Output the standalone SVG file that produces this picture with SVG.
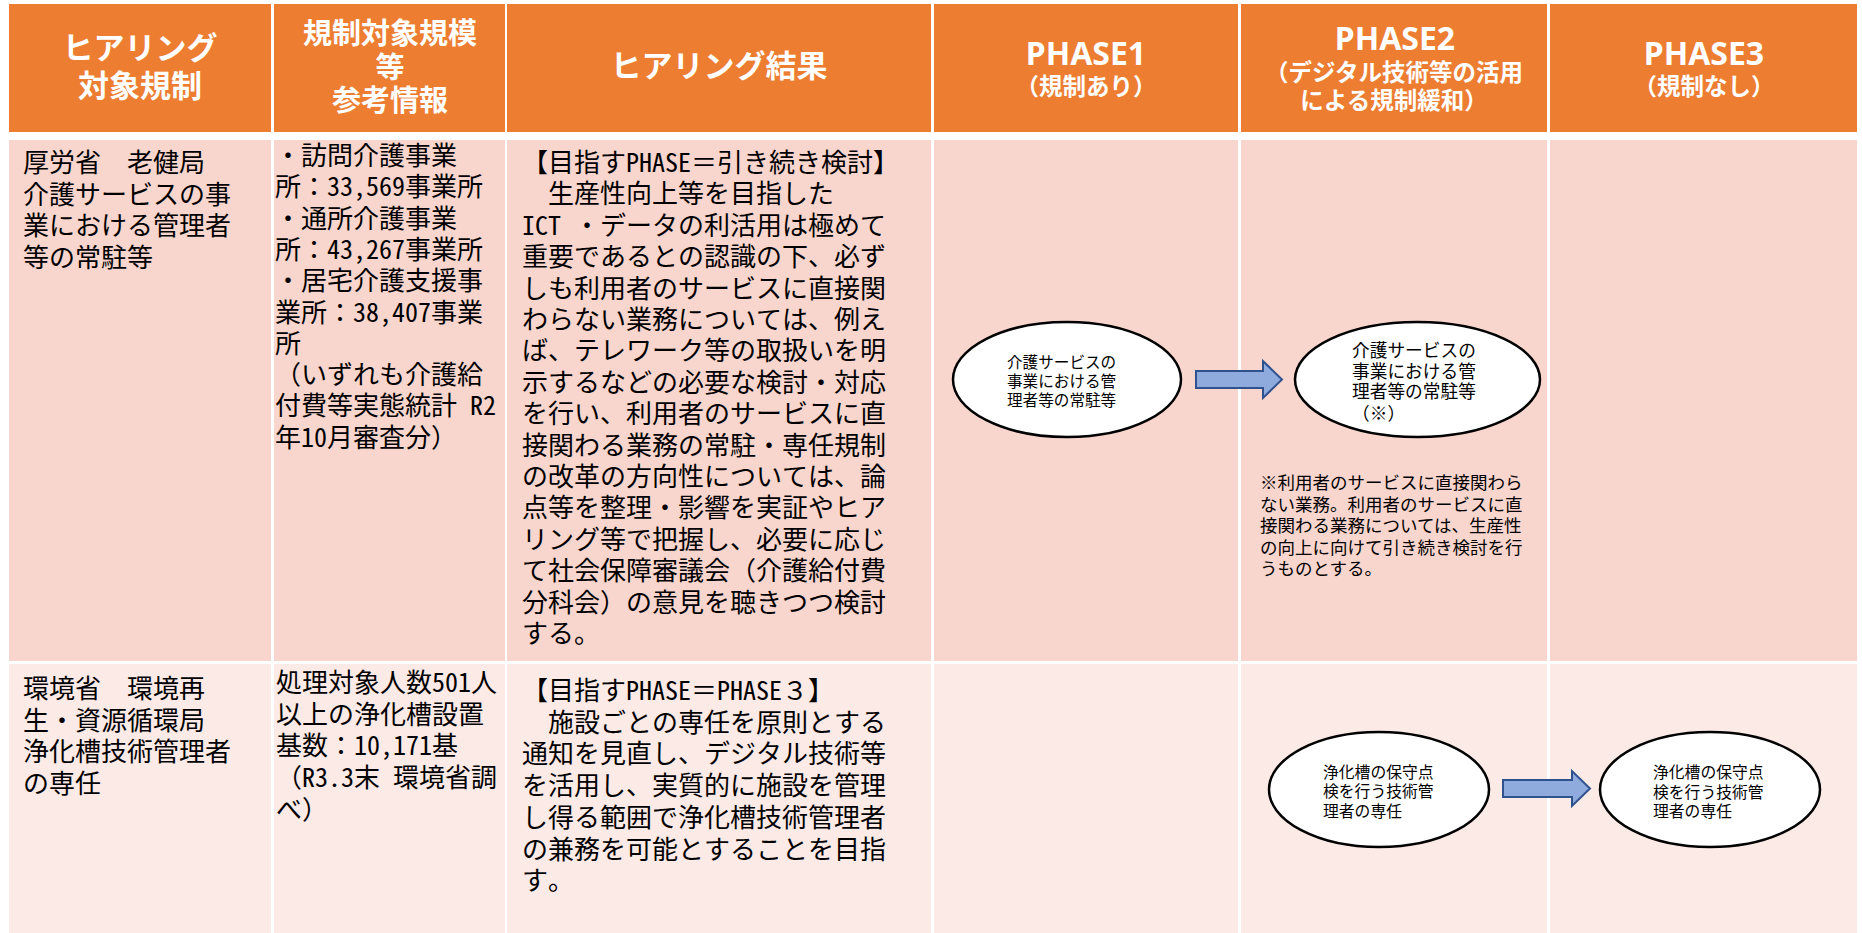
<svg xmlns="http://www.w3.org/2000/svg" width="1862" height="933" viewBox="0 0 1862 933">
<style>
.hd{fill:#ED7D31}
.r1{fill:#F8D6CD}
.r2{fill:#FBEAE6}
.ht{font-family:'Noto Sans','Noto Sans CJK JP',sans-serif;font-weight:bold;fill:#FFFFFF;text-anchor:middle}
.bt{font-family:'Noto Sans Mono CJK JP','Noto Sans CJK JP',sans-serif;font-size:26px;fill:#000000}
.et{font-family:'Noto Sans CJK JP',sans-serif;fill:#000000}
.el{fill:#FFFFFF;stroke:#000000;stroke-width:2.5}
.ar{fill:#8FAADC;stroke:#2F528F;stroke-width:2;stroke-linejoin:miter}
</style>
<rect x="0" y="0" width="1862" height="933" fill="#FFFFFF"/>
<g id="header">
  <g id="h-col1">
    <rect class="hd" x="9" y="4" width="262" height="128"/>
    <text class="ht" font-size="31" x="140" y="59">ヒアリング</text>
    <text class="ht" font-size="31" x="140" y="97">対象規制</text>
  </g>
  <g id="h-col2">
    <rect class="hd" x="274" y="4" width="231" height="128"/>
    <text class="ht" font-size="29" x="390" y="44">規制対象規模</text>
    <text class="ht" font-size="29" x="390" y="78">等</text>
    <text class="ht" font-size="29" x="390" y="111">参考情報</text>
  </g>
  <g id="h-col3">
    <rect class="hd" x="507" y="4" width="424" height="128"/>
    <text class="ht" font-size="31" x="719" y="77">ヒアリング結果</text>
  </g>
  <g id="h-col4">
    <rect class="hd" x="934" y="4" width="304" height="128"/>
    <text class="ht" font-size="32" x="1086" y="65">PHASE1</text>
    <text class="ht" font-size="23.5" x="1086" y="95">（規制あり）</text>
  </g>
  <g id="h-col5">
    <rect class="hd" x="1241" y="4" width="306" height="128"/>
    <text class="ht" font-size="32" x="1395" y="50">PHASE2</text>
    <text class="ht" font-size="23.5" x="1394" y="81">（デジタル技術等の活用</text>
    <text class="ht" font-size="23.5" x="1394" y="109">による規制緩和）</text>
  </g>
  <g id="h-col6">
    <rect class="hd" x="1550" y="4" width="307" height="128"/>
    <text class="ht" font-size="32" x="1704" y="65">PHASE3</text>
    <text class="ht" font-size="23.5" x="1704" y="95">（規制なし）</text>
  </g>
</g>
<g id="row1">
  <g id="r1-col1">
    <rect class="r1" x="9" y="140" width="262" height="521"/>
    <text class="bt" xml:space="preserve"><tspan x="23" y="172">厚労省　老健局</tspan><tspan x="23" y="203.5">介護サービスの事</tspan><tspan x="23" y="235">業における管理者</tspan><tspan x="23" y="266.5">等の常駐等</tspan></text>
  </g>
  <g id="r1-col2">
    <rect class="r1" x="274" y="140" width="231" height="521"/>
    <text class="bt" xml:space="preserve"><tspan x="275" y="165">・訪問介護事業</tspan><tspan x="275" y="196.3">所：33,569事業所</tspan><tspan x="275" y="227.6">・通所介護事業</tspan><tspan x="275" y="258.9">所：43,267事業所</tspan><tspan x="275" y="290.2">・居宅介護支援事</tspan><tspan x="275" y="321.5">業所：38,407事業</tspan><tspan x="275" y="352.8">所</tspan><tspan x="275" y="384.1">（いずれも介護給</tspan><tspan x="275" y="415.4">付費等実態統計 R2</tspan><tspan x="275" y="446.7">年10月審査分）</tspan></text>
  </g>
  <g id="r1-col3">
    <rect class="r1" x="507" y="140" width="424" height="521"/>
    <text class="bt" xml:space="preserve"><tspan x="522" y="172">【目指すPHASE＝引き続き検討】</tspan><tspan x="522" y="203.4">　生産性向上等を目指した</tspan><tspan x="522" y="234.8">ICT ・データの利活用は極めて</tspan><tspan x="522" y="266.2">重要であるとの認識の下、必ず</tspan><tspan x="522" y="297.6">しも利用者のサービスに直接関</tspan><tspan x="522" y="329">わらない業務については、例え</tspan><tspan x="522" y="360.4">ば、テレワーク等の取扱いを明</tspan><tspan x="522" y="391.8">示するなどの必要な検討・対応</tspan><tspan x="522" y="423.2">を行い、利用者のサービスに直</tspan><tspan x="522" y="454.6">接関わる業務の常駐・専任規制</tspan><tspan x="522" y="486">の改革の方向性については、論</tspan><tspan x="522" y="517.4">点等を整理・影響を実証やヒア</tspan><tspan x="522" y="548.8">リング等で把握し、必要に応じ</tspan><tspan x="522" y="580.2">て社会保障審議会（介護給付費</tspan><tspan x="522" y="611.6">分科会）の意見を聴きつつ検討</tspan><tspan x="522" y="643">する。</tspan></text>
  </g>
  <g id="r1-col4">
    <rect class="r1" x="934" y="140" width="304" height="521"/>
  </g>
  <g id="r1-col5">
    <rect class="r1" x="1241" y="140" width="306" height="521"/>
    <text class="et" font-size="17.5"><tspan x="1260" y="489">※利用者のサービスに直接関わら</tspan><tspan x="1260" y="510.6">ない業務。利用者のサービスに直</tspan><tspan x="1260" y="532.2">接関わる業務については、生産性</tspan><tspan x="1260" y="553.8">の向上に向けて引き続き検討を行</tspan><tspan x="1260" y="575.4">うものとする。</tspan></text>
  </g>
  <g id="r1-col6">
    <rect class="r1" x="1550" y="140" width="307" height="521"/>
  </g>
</g>
<g id="row2">
  <g id="r2-col1">
    <rect class="r2" x="9" y="664" width="262" height="269"/>
    <text class="bt" xml:space="preserve"><tspan x="23" y="698">環境省　環境再</tspan><tspan x="23" y="729.7">生・資源循環局</tspan><tspan x="23" y="761.4">浄化槽技術管理者</tspan><tspan x="23" y="793.1">の専任</tspan></text>
  </g>
  <g id="r2-col2">
    <rect class="r2" x="274" y="664" width="231" height="269"/>
    <text class="bt" xml:space="preserve"><tspan x="276" y="692">処理対象人数501人</tspan><tspan x="276" y="723.7">以上の浄化槽設置</tspan><tspan x="276" y="755.4">基数：10,171基</tspan><tspan x="276" y="787.1">（R3.3末 環境省調</tspan><tspan x="276" y="818.8">べ）</tspan></text>
  </g>
  <g id="r2-col3">
    <rect class="r2" x="507" y="664" width="424" height="269"/>
    <text class="bt" xml:space="preserve"><tspan x="522" y="700">【目指すPHASE＝PHASE３】</tspan><tspan x="522" y="731.7">　施設ごとの専任を原則とする</tspan><tspan x="522" y="763.4">通知を見直し、デジタル技術等</tspan><tspan x="522" y="795.1">を活用し、実質的に施設を管理</tspan><tspan x="522" y="826.8">し得る範囲で浄化槽技術管理者</tspan><tspan x="522" y="858.5">の兼務を可能とすることを目指</tspan><tspan x="522" y="890.2">す。</tspan></text>
  </g>
  <g id="r2-col4">
    <rect class="r2" x="934" y="664" width="304" height="269"/>
  </g>
  <g id="r2-col5">
    <rect class="r2" x="1241" y="664" width="306" height="269"/>
  </g>
  <g id="r2-col6">
    <rect class="r2" x="1550" y="664" width="307" height="269"/>
  </g>
</g>
<g id="node-a">
  <ellipse class="el" cx="1067" cy="379.5" rx="114" ry="57.5"/>
  <text class="et" font-size="15.6"><tspan x="1007" y="368">介護サービスの</tspan><tspan x="1007" y="387">事業における管</tspan><tspan x="1007" y="406">理者等の常駐等</tspan></text>
</g>
<g id="node-b">
  <ellipse class="el" cx="1417.5" cy="379.5" rx="122.5" ry="57.5"/>
  <text class="et" font-size="17.7"><tspan x="1352" y="357">介護サービスの</tspan><tspan x="1352" y="377.7">事業における管</tspan><tspan x="1352" y="398.4">理者等の常駐等</tspan><tspan x="1352" y="420">（※）</tspan></text>
</g>
<g id="node-c">
  <ellipse class="el" cx="1379" cy="789.5" rx="110" ry="57.5"/>
  <text class="et" font-size="15.8"><tspan x="1323" y="778">浄化槽の保守点</tspan><tspan x="1323" y="797">検を行う技術管</tspan><tspan x="1323" y="816.5">理者の専任</tspan></text>
</g>
<g id="node-d">
  <ellipse class="el" cx="1710" cy="789.5" rx="110" ry="57.5"/>
  <text class="et" font-size="15.8"><tspan x="1653" y="778">浄化槽の保守点</tspan><tspan x="1653" y="797.5">検を行う技術管</tspan><tspan x="1653" y="817">理者の専任</tspan></text>
</g>
<g id="connectors">
  <path class="ar" d="M1196,371 H1263 V361 L1282,379.5 L1263,398 V388 H1196 Z"/>
  <path class="ar" d="M1503,780 H1572 V771 L1590,788.5 L1572,806 V797 H1503 Z"/>
</g>
</svg>
